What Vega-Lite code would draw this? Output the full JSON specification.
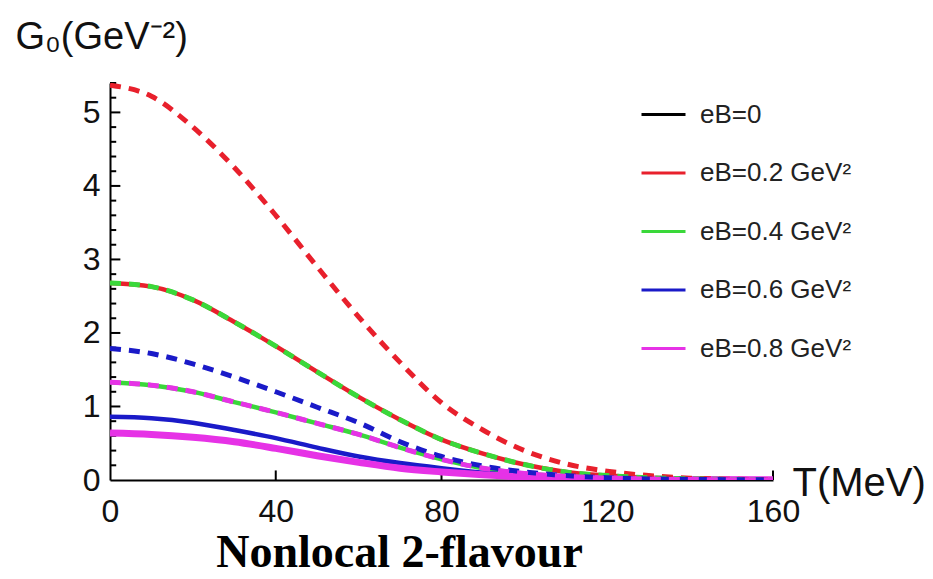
{
  "$schema": "https://vega.github.io/schema/vega-lite/v6.json",
  "width": 663,
  "height": 397,
  "autosize": {"type": "none"},
  "padding": {"left": 110, "top": 83, "right": 160, "bottom": 99},
  "background": "white",
  "config": {"view": {"stroke": null}, "font": "Liberation Sans"},
  "title": {"text": "Nonlocal 2-flavour", "orient": "bottom", "font": "Liberation Serif", "fontWeight": "bold", "fontSize": 46, "color": "black", "anchor": "middle", "dx": -42, "offset": 4},
  "datasets": {
    "yMajor": [{"v": 1}, {"v": 2}, {"v": 3}, {"v": 4}, {"v": 5}],
    "yMinor": [{"v": 0.2}, {"v": 0.4}, {"v": 0.6}, {"v": 0.8}, {"v": 1.2}, {"v": 1.4}, {"v": 1.6}, {"v": 1.8}, {"v": 2.2}, {"v": 2.4}, {"v": 2.6}, {"v": 2.8}, {"v": 3.2}, {"v": 3.4}, {"v": 3.6}, {"v": 3.8}, {"v": 4.2}, {"v": 4.4}, {"v": 4.6}, {"v": 4.8}, {"v": 5.2}, {"v": 5.4}],
    "xMajor": [{"v": 40}, {"v": 80}, {"v": 120}, {"v": 160}],
    "solid": [
      {"eB": "eB=0.2 GeV²", "T": 0, "G": 2.68}, {"eB": "eB=0.2 GeV²", "T": 10, "G": 2.63}, {"eB": "eB=0.2 GeV²", "T": 20, "G": 2.45}, {"eB": "eB=0.2 GeV²", "T": 30, "G": 2.15}, {"eB": "eB=0.2 GeV²", "T": 40, "G": 1.82}, {"eB": "eB=0.2 GeV²", "T": 50, "G": 1.47}, {"eB": "eB=0.2 GeV²", "T": 60, "G": 1.13}, {"eB": "eB=0.2 GeV²", "T": 70, "G": 0.82}, {"eB": "eB=0.2 GeV²", "T": 80, "G": 0.55}, {"eB": "eB=0.2 GeV²", "T": 90, "G": 0.36}, {"eB": "eB=0.2 GeV²", "T": 100, "G": 0.21}, {"eB": "eB=0.2 GeV²", "T": 110, "G": 0.11}, {"eB": "eB=0.2 GeV²", "T": 120, "G": 0.06}, {"eB": "eB=0.2 GeV²", "T": 130, "G": 0.03}, {"eB": "eB=0.2 GeV²", "T": 140, "G": 0.015}, {"eB": "eB=0.2 GeV²", "T": 150, "G": 0.008}, {"eB": "eB=0.2 GeV²", "T": 160, "G": 0.004},
      {"eB": "eB=0.4 GeV²", "T": 0, "G": 1.33}, {"eB": "eB=0.4 GeV²", "T": 10, "G": 1.29}, {"eB": "eB=0.4 GeV²", "T": 20, "G": 1.2}, {"eB": "eB=0.4 GeV²", "T": 30, "G": 1.06}, {"eB": "eB=0.4 GeV²", "T": 40, "G": 0.92}, {"eB": "eB=0.4 GeV²", "T": 50, "G": 0.77}, {"eB": "eB=0.4 GeV²", "T": 60, "G": 0.62}, {"eB": "eB=0.4 GeV²", "T": 70, "G": 0.44}, {"eB": "eB=0.4 GeV²", "T": 80, "G": 0.28}, {"eB": "eB=0.4 GeV²", "T": 90, "G": 0.16}, {"eB": "eB=0.4 GeV²", "T": 100, "G": 0.09}, {"eB": "eB=0.4 GeV²", "T": 110, "G": 0.05}, {"eB": "eB=0.4 GeV²", "T": 120, "G": 0.025}, {"eB": "eB=0.4 GeV²", "T": 130, "G": 0.012}, {"eB": "eB=0.4 GeV²", "T": 140, "G": 0.006}, {"eB": "eB=0.4 GeV²", "T": 160, "G": 0.002},
      {"eB": "eB=0.6 GeV²", "T": 0, "G": 0.86}, {"eB": "eB=0.6 GeV²", "T": 10, "G": 0.84}, {"eB": "eB=0.6 GeV²", "T": 20, "G": 0.78}, {"eB": "eB=0.6 GeV²", "T": 30, "G": 0.68}, {"eB": "eB=0.6 GeV²", "T": 40, "G": 0.57}, {"eB": "eB=0.6 GeV²", "T": 50, "G": 0.44}, {"eB": "eB=0.6 GeV²", "T": 60, "G": 0.32}, {"eB": "eB=0.6 GeV²", "T": 70, "G": 0.23}, {"eB": "eB=0.6 GeV²", "T": 80, "G": 0.16}, {"eB": "eB=0.6 GeV²", "T": 90, "G": 0.1}, {"eB": "eB=0.6 GeV²", "T": 100, "G": 0.06}, {"eB": "eB=0.6 GeV²", "T": 110, "G": 0.035}, {"eB": "eB=0.6 GeV²", "T": 120, "G": 0.02}, {"eB": "eB=0.6 GeV²", "T": 130, "G": 0.012}, {"eB": "eB=0.6 GeV²", "T": 140, "G": 0.008}, {"eB": "eB=0.6 GeV²", "T": 160, "G": 0.003},
      {"eB": "eB=0.8 GeV²", "T": 0, "G": 0.64}, {"eB": "eB=0.8 GeV²", "T": 10, "G": 0.62}, {"eB": "eB=0.8 GeV²", "T": 20, "G": 0.58}, {"eB": "eB=0.8 GeV²", "T": 30, "G": 0.52}, {"eB": "eB=0.8 GeV²", "T": 40, "G": 0.43}, {"eB": "eB=0.8 GeV²", "T": 50, "G": 0.33}, {"eB": "eB=0.8 GeV²", "T": 60, "G": 0.24}, {"eB": "eB=0.8 GeV²", "T": 70, "G": 0.16}, {"eB": "eB=0.8 GeV²", "T": 80, "G": 0.11}, {"eB": "eB=0.8 GeV²", "T": 90, "G": 0.07}, {"eB": "eB=0.8 GeV²", "T": 100, "G": 0.04}, {"eB": "eB=0.8 GeV²", "T": 110, "G": 0.025}, {"eB": "eB=0.8 GeV²", "T": 120, "G": 0.015}, {"eB": "eB=0.8 GeV²", "T": 130, "G": 0.01}, {"eB": "eB=0.8 GeV²", "T": 140, "G": 0.006}, {"eB": "eB=0.8 GeV²", "T": 160, "G": 0.003}
    ],
    "dashed": [
      {"eB": "eB=0.2 GeV²", "T": 0, "G": 5.37}, {"eB": "eB=0.2 GeV²", "T": 10, "G": 5.22}, {"eB": "eB=0.2 GeV²", "T": 20, "G": 4.8}, {"eB": "eB=0.2 GeV²", "T": 30, "G": 4.25}, {"eB": "eB=0.2 GeV²", "T": 40, "G": 3.6}, {"eB": "eB=0.2 GeV²", "T": 50, "G": 2.9}, {"eB": "eB=0.2 GeV²", "T": 60, "G": 2.22}, {"eB": "eB=0.2 GeV²", "T": 70, "G": 1.6}, {"eB": "eB=0.2 GeV²", "T": 80, "G": 1.05}, {"eB": "eB=0.2 GeV²", "T": 90, "G": 0.68}, {"eB": "eB=0.2 GeV²", "T": 100, "G": 0.4}, {"eB": "eB=0.2 GeV²", "T": 110, "G": 0.22}, {"eB": "eB=0.2 GeV²", "T": 120, "G": 0.12}, {"eB": "eB=0.2 GeV²", "T": 130, "G": 0.06}, {"eB": "eB=0.2 GeV²", "T": 140, "G": 0.025}, {"eB": "eB=0.2 GeV²", "T": 150, "G": 0.01}, {"eB": "eB=0.2 GeV²", "T": 160, "G": 0.005},
      {"eB": "eB=0.4 GeV²", "T": 0, "G": 2.68}, {"eB": "eB=0.4 GeV²", "T": 10, "G": 2.63}, {"eB": "eB=0.4 GeV²", "T": 20, "G": 2.45}, {"eB": "eB=0.4 GeV²", "T": 30, "G": 2.15}, {"eB": "eB=0.4 GeV²", "T": 40, "G": 1.82}, {"eB": "eB=0.4 GeV²", "T": 50, "G": 1.47}, {"eB": "eB=0.4 GeV²", "T": 60, "G": 1.13}, {"eB": "eB=0.4 GeV²", "T": 70, "G": 0.82}, {"eB": "eB=0.4 GeV²", "T": 80, "G": 0.55}, {"eB": "eB=0.4 GeV²", "T": 90, "G": 0.36}, {"eB": "eB=0.4 GeV²", "T": 100, "G": 0.21}, {"eB": "eB=0.4 GeV²", "T": 110, "G": 0.11}, {"eB": "eB=0.4 GeV²", "T": 120, "G": 0.06}, {"eB": "eB=0.4 GeV²", "T": 130, "G": 0.03}, {"eB": "eB=0.4 GeV²", "T": 140, "G": 0.015}, {"eB": "eB=0.4 GeV²", "T": 150, "G": 0.008}, {"eB": "eB=0.4 GeV²", "T": 160, "G": 0.004},
      {"eB": "eB=0.6 GeV²", "T": 0, "G": 1.79}, {"eB": "eB=0.6 GeV²", "T": 10, "G": 1.72}, {"eB": "eB=0.6 GeV²", "T": 20, "G": 1.58}, {"eB": "eB=0.6 GeV²", "T": 30, "G": 1.4}, {"eB": "eB=0.6 GeV²", "T": 40, "G": 1.2}, {"eB": "eB=0.6 GeV²", "T": 50, "G": 0.99}, {"eB": "eB=0.6 GeV²", "T": 60, "G": 0.78}, {"eB": "eB=0.6 GeV²", "T": 70, "G": 0.52}, {"eB": "eB=0.6 GeV²", "T": 80, "G": 0.32}, {"eB": "eB=0.6 GeV²", "T": 90, "G": 0.19}, {"eB": "eB=0.6 GeV²", "T": 100, "G": 0.11}, {"eB": "eB=0.6 GeV²", "T": 110, "G": 0.06}, {"eB": "eB=0.6 GeV²", "T": 120, "G": 0.03}, {"eB": "eB=0.6 GeV²", "T": 130, "G": 0.015}, {"eB": "eB=0.6 GeV²", "T": 140, "G": 0.008}, {"eB": "eB=0.6 GeV²", "T": 160, "G": 0.003},
      {"eB": "eB=0.8 GeV²", "T": 0, "G": 1.33}, {"eB": "eB=0.8 GeV²", "T": 10, "G": 1.29}, {"eB": "eB=0.8 GeV²", "T": 20, "G": 1.2}, {"eB": "eB=0.8 GeV²", "T": 30, "G": 1.06}, {"eB": "eB=0.8 GeV²", "T": 40, "G": 0.92}, {"eB": "eB=0.8 GeV²", "T": 50, "G": 0.77}, {"eB": "eB=0.8 GeV²", "T": 60, "G": 0.62}, {"eB": "eB=0.8 GeV²", "T": 70, "G": 0.44}, {"eB": "eB=0.8 GeV²", "T": 80, "G": 0.28}, {"eB": "eB=0.8 GeV²", "T": 90, "G": 0.16}, {"eB": "eB=0.8 GeV²", "T": 100, "G": 0.09}, {"eB": "eB=0.8 GeV²", "T": 110, "G": 0.05}, {"eB": "eB=0.8 GeV²", "T": 120, "G": 0.025}, {"eB": "eB=0.8 GeV²", "T": 130, "G": 0.012}, {"eB": "eB=0.8 GeV²", "T": 140, "G": 0.006}, {"eB": "eB=0.8 GeV²", "T": 160, "G": 0.002}
    ]
  },
  "layer": [
    {"data": {"name": "yMajor"},
     "mark": {"type": "rule", "color": "#000000", "strokeWidth": 2, "opacity": 1},
     "encoding": {"y": {"field": "v", "type": "quantitative"}, "x": {"datum": 0}, "x2": {"datum": 2.5}}},
    {"data": {"name": "yMinor"},
     "mark": {"type": "rule", "color": "#000000", "strokeWidth": 2, "opacity": 1},
     "encoding": {"y": {"field": "v", "type": "quantitative"}, "x": {"datum": 0}, "x2": {"datum": 1.5}}},
    {"data": {"name": "xMajor"},
     "mark": {"type": "rule", "color": "#000000", "strokeWidth": 2, "opacity": 1},
     "encoding": {"x": {"field": "v", "type": "quantitative"}, "y": {"datum": 0}, "y2": {"datum": 0.13}}},
    {"data": {"name": "solid"},
     "mark": {"type": "line", "interpolate": "monotone", "clip": true},
     "encoding": {
       "x": {"field": "T", "type": "quantitative",
         "scale": {"domain": [0, 160], "nice": false, "zero": false},
         "axis": {"orient": "bottom", "values": [0, 40, 80, 120, 160], "grid": false, "domainColor": "black", "domainWidth": 2, "ticks": false, "labelFontSize": 32, "labelColor": "#111", "labelPadding": 16, "labelFont": "Liberation Sans", "labelFlush": false,
           "title": "T(MeV)", "titleFontSize": 40, "titleFontWeight": "normal", "titleColor": "#111", "titleFont": "Liberation Sans", "titleAnchor": "start", "titleAlign": "left", "titleBaseline": "alphabetic", "titleX": 682, "titleY": 15}},
       "y": {"field": "G", "type": "quantitative",
         "scale": {"domain": [0, 5.4], "nice": false},
         "axis": {"orient": "left", "values": [0, 1, 2, 3, 4, 5], "format": "d",
           "grid": false, "domainColor": "black", "domainWidth": 2, "ticks": false,
           "labelFontSize": 32, "labelColor": "#111", "labelPadding": 10, "labelFont": "Liberation Sans", "labelFlush": false,
           "title": "G₀(GeV⁻²)", "titleFontSize": 38, "titleFontWeight": "normal", "titleColor": "#111", "titleFont": "Liberation Sans", "titleAngle": 0, "titleAlign": "left", "titleBaseline": "alphabetic", "titleX": -95, "titleY": -35}},
       "color": {"field": "eB", "type": "nominal",
         "scale": {"domain": ["eB=0", "eB=0.2 GeV²", "eB=0.4 GeV²", "eB=0.6 GeV²", "eB=0.8 GeV²"], "range": ["#000000", "#e8202c", "#3ad83a", "#1a1ac8", "#e632e6"]},
         "legend": {"title": null, "orient": "none", "legendX": 530, "legendY": 8, "padding": 0, "symbolType": "stroke", "symbolSize": 1936, "symbolStrokeWidth": 3, "rowPadding": 21.5, "labelOffset": 13, "labelFontSize": 26, "labelFont": "Liberation Sans", "labelColor": "#222", "labelLimit": 400}},
       "strokeWidth": {"condition": {"test": "datum.eB === 'eB=0.8 GeV²'", "value": 7}, "value": 4.5}}},
    {"data": {"name": "dashed"},
     "mark": {"type": "line", "interpolate": "monotone", "strokeDash": [11, 8], "strokeWidth": 5, "clip": true},
     "encoding": {
       "x": {"field": "T", "type": "quantitative"},
       "y": {"field": "G", "type": "quantitative"},
       "color": {"field": "eB", "type": "nominal"}}}
  ]
}
